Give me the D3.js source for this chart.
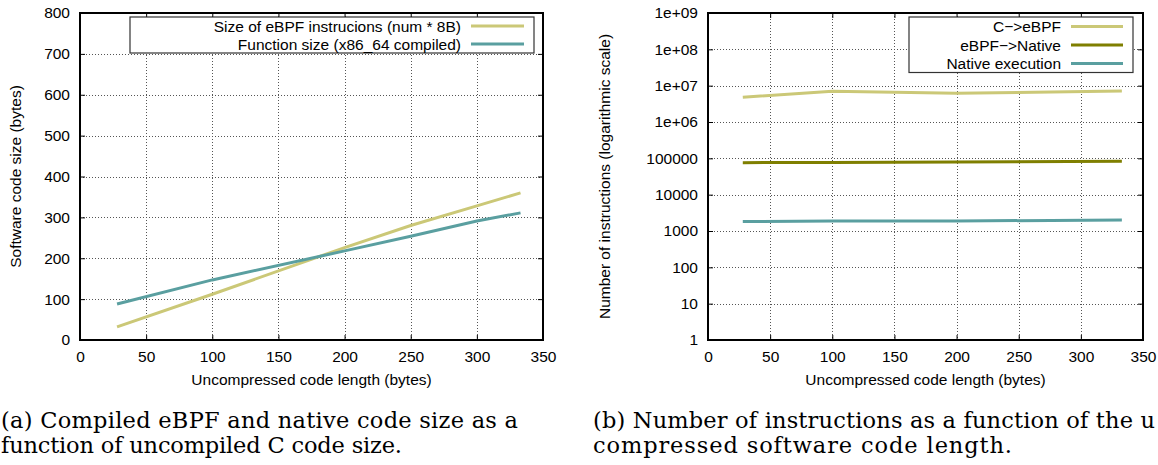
<!DOCTYPE html>
<html>
<head>
<meta charset="utf-8">
<script src="https://cdn.jsdelivr.net/npm/d3@7"></script>
<style>
  body { margin: 0; background: #fff; }
  svg { display: block; }
  text { font-family: "Liberation Sans", Arial, sans-serif; fill: #000; }
  .caption { font-family: "DejaVu Serif", serif; font-size: 22.5px; }
</style>
</head>
<body>
<div id="wrapper"></div>
<script>
// data
const sizeX = [28, 100, 200, 250, 300, 333];
const ebpfSize = [32, 112, 226, 280, 328, 360];
const funcSize = [88, 147, 218, 254, 291, 311];
const sizeYTicks = [0, 100, 200, 300, 400, 500, 600, 700, 800];

const instrX = [28, 100, 200, 333];
const cToEbpf = [4.8e6, 7.0e6, 6.2e6, 7.1e6];
const ebpfToNative = [76000, 77000, 79000, 83000];
const nativeExec = [1815, 1870, 1885, 2010];
const instrYTicks = [1, 10, 100, 1000, 10000, 100000, 1e6, 1e7, 1e8, 1e9];

const xTicks = [0, 50, 100, 150, 200, 250, 300, 350];

const colors = { yellow: "#cbc877", teal: "#5a9fa0", olive: "#7f7f00" };

const wrapper = d3.select("#wrapper")
  .append("svg")
  .attr("width", 1158)
  .attr("height", 465);

function drawPanel(opts) {
  const { left, right, top, bottom } = opts;
  const g = wrapper.append("g");
  const xScale = d3.scaleLinear().domain([0, 350]).range([left, right]);
  const yScale = opts.yScale.range([bottom, top]);

  // grid
  const grid = g.append("g")
    .attr("stroke", "#555")
    .attr("stroke-width", 1)
    .attr("stroke-dasharray", "1,2");
  grid.selectAll(".gx")
    .data(xTicks.slice(1, -1))
    .join("line")
    .attr("x1", (d) => Math.round(xScale(d)) + 0.5)
    .attr("x2", (d) => Math.round(xScale(d)) + 0.5)
    .attr("y1", top)
    .attr("y2", bottom);
  grid.selectAll(".gy")
    .data(opts.yTicks.slice(1, -1))
    .join("line")
    .attr("x1", left)
    .attr("x2", right)
    .attr("y1", (d) => Math.round(yScale(d)) + 0.5)
    .attr("y2", (d) => Math.round(yScale(d)) + 0.5);

  // axes with inward ticks, mirrored
  const xAxis = g.append("g")
    .attr("transform", `translate(0,${bottom})`)
    .call(d3.axisBottom(xScale).tickValues(xTicks).tickSizeInner(-5).tickSizeOuter(0).tickPadding(13));
  const xAxisTop = g.append("g")
    .attr("transform", `translate(0,${top})`)
    .call(d3.axisTop(xScale).tickValues(xTicks).tickSizeInner(-5).tickSizeOuter(0).tickFormat(""));
  const yAxis = g.append("g")
    .attr("transform", `translate(${left},0)`)
    .call(d3.axisLeft(yScale).tickValues(opts.yTicks).tickFormat(opts.yFormat).tickSizeInner(-5).tickSizeOuter(0).tickPadding(10));
  const yAxisRight = g.append("g")
    .attr("transform", `translate(${right},0)`)
    .call(d3.axisRight(yScale).tickValues(opts.yTicks).tickSizeInner(-5).tickSizeOuter(0).tickFormat(""));

  [xAxis, xAxisTop, yAxis, yAxisRight].forEach((a) => {
    a.select(".domain").remove();
    a.selectAll("line").attr("stroke", "#000").attr("stroke-width", 1);
    a.selectAll("text").style("font-size", "15.5px").attr("font-family", null);
  });
  xAxis.selectAll("text").attr("dy", "0.55em");

  // border
  g.append("rect")
    .attr("x", left)
    .attr("y", top)
    .attr("width", right - left)
    .attr("height", bottom - top)
    .attr("fill", "none")
    .attr("stroke", "#000")
    .attr("stroke-width", 2);

  // lines
  const lineGenerator = d3.line()
    .x((d) => xScale(d[0]))
    .y((d) => yScale(d[1]));
  opts.series.forEach((s) => {
    g.append("path")
      .attr("d", lineGenerator(opts.xs.map((x, i) => [x, s.values[i]])))
      .attr("fill", "none")
      .attr("stroke", s.color)
      .attr("stroke-width", 3);
  });

  // legend
  const lg = opts.legend;
  g.append("rect")
    .attr("x", lg.x)
    .attr("y", lg.y)
    .attr("width", lg.w)
    .attr("height", lg.h)
    .attr("fill", "#fff")
    .attr("stroke", "#333")
    .attr("stroke-width", 1.2);
  opts.series.forEach((s, i) => {
    const cy = lg.y + lg.first + i * lg.step;
    g.append("text")
      .attr("x", lg.textRight)
      .attr("y", cy)
      .attr("dy", "0.36em")
      .attr("text-anchor", "end")
      .style("font-size", "15.5px")
      .text(s.name);
    g.append("line")
      .attr("x1", lg.lineX1)
      .attr("x2", lg.lineX2)
      .attr("y1", cy)
      .attr("y2", cy)
      .attr("stroke", s.color)
      .attr("stroke-width", 3);
  });

  // axis labels
  g.append("text")
    .attr("x", (left + right) / 2)
    .attr("y", 385)
    .attr("text-anchor", "middle")
    .style("font-size", "15.5px")
    .text("Uncompressed code length (bytes)");
  g.append("text")
    .attr("transform", `translate(${opts.yLabelX},${(top + bottom) / 2}) rotate(-90)`)
    .attr("text-anchor", "middle")
    .style("font-size", "15.5px")
    .text(opts.yLabel);

  // caption
  opts.caption.forEach((c, i) => {
    g.append("text")
      .attr("class", "caption")
      .attr("x", opts.captionX)
      .attr("y", 428 + i * 25)
      .attr("textLength", c.w)
      .text(c.text);
  });
}

drawPanel({
  left: 80, right: 543, top: 13, bottom: 340,
  yScale: d3.scaleLinear().domain([0, 800]),
  yTicks: sizeYTicks,
  yFormat: (d) => d,
  xs: sizeX,
  series: [
    { name: "Size of eBPF instrucions (num * 8B)", values: ebpfSize, color: colors.yellow },
    { name: "Function size (x86_64 compiled)", values: funcSize, color: colors.teal },
  ],
  legend: { x: 130, y: 17, w: 404, h: 36, first: 9, step: 18, textRight: 461, lineX1: 471, lineX2: 524 },
  yLabel: "Software code size (bytes)",
  yLabelX: 21,
  captionX: 1,
  caption: [
    { text: "(a) Compiled eBPF and native code size as a", w: 517 },
    { text: "function of uncompiled C code size.", w: 401 },
  ],
});

drawPanel({
  left: 708, right: 1143, top: 13, bottom: 340,
  yScale: d3.scaleLog().domain([1, 1e9]),
  yTicks: instrYTicks,
  yFormat: (d) => (d >= 1e6 ? `1e+${String(Math.round(Math.log10(d))).padStart(2, "0")}` : d),
  xs: instrX,
  series: [
    { name: "C\u2212>eBPF", values: cToEbpf, color: colors.yellow },
    { name: "eBPF\u2212>Native", values: ebpfToNative, color: colors.olive },
    { name: "Native execution", values: nativeExec, color: colors.teal },
  ],
  legend: { x: 909, y: 17, w: 224, h: 55.5, first: 9.5, step: 18.5, textRight: 1061, lineX1: 1071, lineX2: 1123 },
  yLabel: "Number of instructions (logarithmic scale)",
  yLabelX: 610,
  captionX: 593,
  caption: [
    { text: "(b) Number of instructions as a function of the u", w: 562 },
    { text: "compressed software code length.", w: 419 },
  ],
});
</script>
</body>
</html>
